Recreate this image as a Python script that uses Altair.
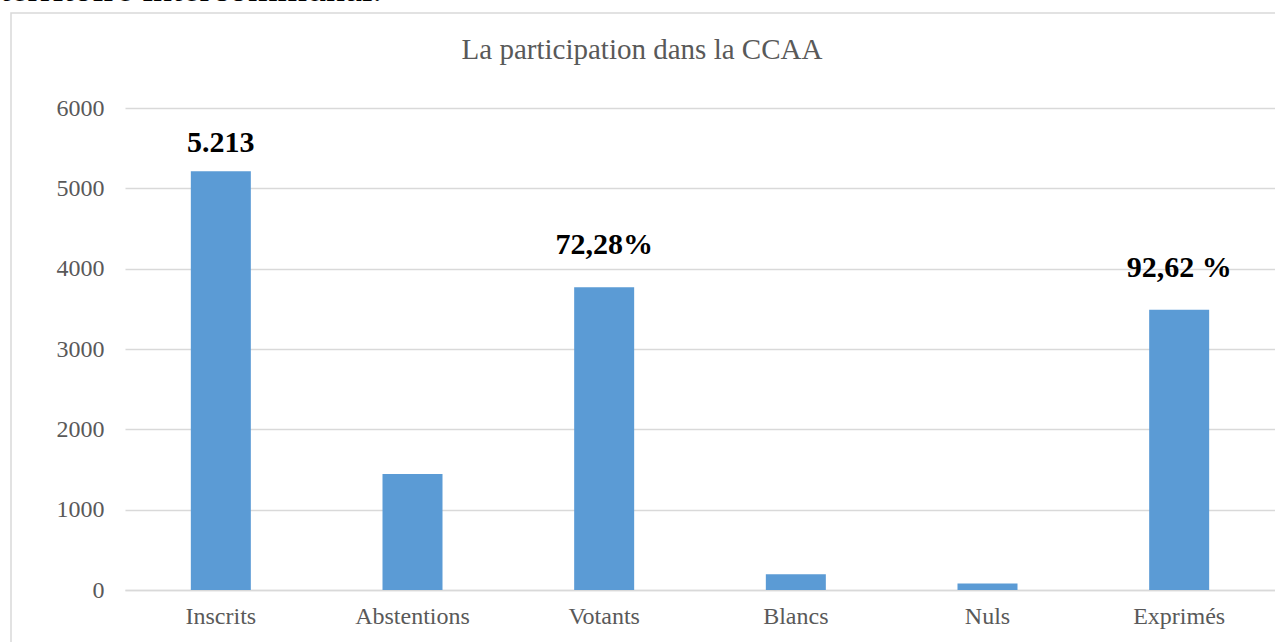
import altair as alt
import pandas as pd

categories = ["Inscrits", "Abstentions", "Votants", "Blancs", "Nuls", "Exprimés"]
values = [5213, 1445, 3768, 197, 81, 3490]
labels = ["5.213", "", "72,28%", "", "", "92,62 %"]
y_ticks = [0, 1000, 2000, 3000, 4000, 5000, 6000]
title_text = "La participation dans la CCAA"
page_text = "territoire intercommunal."

df = pd.DataFrame({"cat": categories, "val": values, "lab": labels})

FONT = "Liberation Serif"
GREY = "#595959"

x_enc = alt.X("cat:N", sort=categories,
              scale=alt.Scale(paddingInner=0, paddingOuter=0),
              axis=alt.Axis(title=None, labelAngle=0, labelFont=FONT, labelFontSize=24,
                            labelColor=GREY, ticks=False, domain=True, domainColor="#d9d9d9",
                            domainWidth=1.5, labelPadding=14, grid=False))
y_enc = alt.Y("val:Q", scale=alt.Scale(domain=[0, 6000], nice=False),
              axis=alt.Axis(title=None, values=y_ticks, format="d", labelFont=FONT,
                            labelFontSize=24, labelColor=GREY, ticks=False, domain=False,
                            gridColor="#d9d9d9", gridWidth=1.5, labelPadding=21))

bars = alt.Chart(df).mark_bar(size=60, color="#5b9bd5").encode(x=x_enc, y=y_enc)

texts_a = alt.Chart(df).transform_filter(alt.datum.cat == "Inscrits").mark_text(
    font=FONT, fontSize=30, fontWeight="bold", color="black",
    dy=-19, baseline="alphabetic").encode(
    x=alt.X("cat:N", sort=categories), y="val:Q", text="lab:N")

texts_b = alt.Chart(df).transform_filter(alt.datum.cat != "Inscrits").mark_text(
    font=FONT, fontSize=30, fontWeight="bold", color="black",
    dy=-33, baseline="alphabetic").encode(
    x=alt.X("cat:N", sort=categories), y="val:Q", text="lab:N")

title_df = pd.DataFrame({"t": [title_text]})
title = alt.Chart(title_df).mark_text(font=FONT, fontSize=29, color=GREY,
                                      baseline="middle", align="center").encode(
    x=alt.value(517), y=alt.value(-58), text="t:N")

page_df = pd.DataFrame({"t": [page_text]})
page = alt.Chart(page_df).mark_text(font=FONT, fontSize=38, color="black",
                                    baseline="alphabetic", align="left").encode(
    x=alt.value(-125), y=alt.value(-107), text="t:N")

frame = alt.Chart(title_df).mark_rect(fill=None, stroke="#d9d9d9", strokeWidth=1.5).encode(
    x=alt.value(-114), x2=alt.value(1170), y=alt.value(-95), y2=alt.value(600))

chart = alt.layer(frame, bars, texts_a, texts_b, title, page).properties(
    width=1150, height=482,
    autosize=alt.AutoSizeParams(type="none"),
    padding={"left": 125, "top": 108, "right": 0, "bottom": 52},
    background="white",
).configure_view(stroke=None)

chart.save("out.html", embed_options={"renderer": "svg", "actions": False})
